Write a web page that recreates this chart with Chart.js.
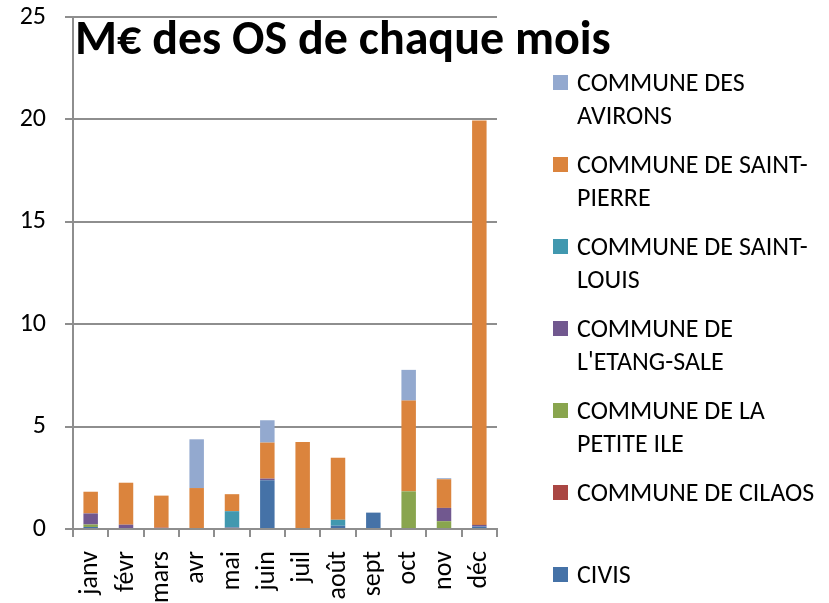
<!DOCTYPE html>
<html>
<head>
<meta charset="utf-8">
<script src="https://cdn.jsdelivr.net/npm/chart.js@4.4.1/dist/chart.umd.min.js"></script>
<style>
  html, body { margin: 0; padding: 0; background: #fff; overflow: hidden; }
  #wrap { position: relative; width: 829px; height: 603px; }
  #legend { position: absolute; left: 553px; top: 66px; font-family: Carlito, Lato, sans-serif; font-size: 26px; color: #000; }
  .item { position: relative; height: 82px; }
  .box { position: absolute; left: 0; top: 9px; width: 15px; height: 15px; }
  .txt { position: absolute; left: 24px; top: 0; line-height: 33px; white-space: nowrap; }
</style>
</head>
<body>
<div id="wrap">
  <canvas id="c" width="829" height="603"></canvas>
  <div id="legend"></div>
</div>
<script>
(function () {
  "use strict";

  // ---- data (M€) ----
  var MONTHS = ["janv", "févr", "mars", "avr", "mai", "juin", "juil", "août", "sept", "oct", "nov", "déc"];
  var Y_TICKS = [0, 5, 10, 15, 20, 25];
  var TITLE = "M€ des OS de chaque mois";

  // stacking order, bottom to top
  var NAMES = [
    ["CIVIS"],
    ["COMMUNE DE CILAOS"],
    ["COMMUNE DE LA", "PETITE ILE"],
    ["COMMUNE DE", "L'ETANG-SALE"],
    ["COMMUNE DE SAINT-", "LOUIS"],
    ["COMMUNE DE SAINT-", "PIERRE"],
    ["COMMUNE DES", "AVIRONS"]
  ];
  var COLORS = ["#4572A7", "#AA4643", "#89A54E", "#71588F", "#4198AF", "#DB843D", "#93A9CF"];

  var CIVIS        = [0.10, 0,    0,    0,    0,    2.38, 0,    0.16, 0.80, 0,    0,    0.12];
  var CILAOS       = [0,    0,    0.07, 0,    0,    0,    0,    0,    0,    0,    0,    0];
  var PETITE_ILE   = [0.12, 0,    0,    0,    0,    0,    0,    0,    0,    1.84, 0.38, 0];
  var ETANG_SALE   = [0.54, 0.21, 0,    0,    0.07, 0.08, 0,    0,    0,    0,    0.65, 0.08];
  var SAINT_LOUIS  = [0,    0,    0,    0,    0.80, 0,    0,    0.29, 0,    0,    0,    0];
  var SAINT_PIERRE = [1.06, 2.05, 1.56, 2.00, 0.83, 1.76, 4.25, 3.03, 0,    4.43, 1.40, 19.75];
  var AVIRONS      = [0,    0,    0,    2.38, 0,    1.09, 0,    0,    0,    1.50, 0.05, 0];

  var SERIES = [CIVIS, CILAOS, PETITE_ILE, ETANG_SALE, SAINT_LOUIS, SAINT_PIERRE, AVIRONS];

  var FONT = "Carlito, Lato, sans-serif";
  var AXIS = "#8e8e8e";

  var datasets = SERIES.map(function (d, i) {
    return {
      label: NAMES[i].join(" "),
      data: d,
      backgroundColor: COLORS[i],
      borderWidth: 0,
      categoryPercentage: 1,
      barPercentage: 0.41
    };
  });

  var titlePlugin = {
    id: "overTitle",
    afterDraw: function (chart) {
      var ctx = chart.ctx;
      ctx.save();
      ctx.font = "bold 48px " + FONT;
      ctx.fillStyle = "#000";
      ctx.textBaseline = "alphabetic";
      ctx.textAlign = "left";
      ctx.fillText(TITLE, chart.chartArea.left + 2, 54);
      ctx.restore();
    }
  };

  var chart = new Chart(document.getElementById("c").getContext("2d"), {
    type: "bar",
    data: { labels: MONTHS, datasets: datasets },
    plugins: [titlePlugin],
    options: {
      responsive: false,
      animation: false,
      layout: { padding: { top: 17, right: 332, left: 0, bottom: 0 } },
      plugins: { legend: { display: false }, title: { display: false }, tooltip: { enabled: false } },
      scales: {
        x: {
          stacked: true,
          afterFit: function (s) { s.height = 74; s.paddingLeft = 0; s.paddingRight = 0; },
          grid: { drawOnChartArea: false, drawTicks: true, tickLength: 8, color: AXIS, lineWidth: 2, offset: true },
          border: { color: AXIS, width: 2 },
          ticks: { color: "#000", font: { family: FONT, size: 26 }, minRotation: 90, maxRotation: 90, padding: 14, autoSkip: false }
        },
        y: {
          stacked: true,
          min: 0, max: 25,
          afterFit: function (s) { s.width = 73; s.paddingTop = 0; s.paddingBottom = 0; },
          afterBuildTicks: function (s) { s.ticks = Y_TICKS.map(function (v) { return { value: v }; }); },
          grid: { color: AXIS, lineWidth: 2, tickLength: 8 },
          border: { color: AXIS, width: 2 },
          ticks: { color: "#000", font: { family: FONT, size: 26 }, padding: 19 }
        }
      }
    }
  });

  // legend, top entry = top of the stack
  var lg = document.getElementById("legend");
  for (var i = NAMES.length - 1; i >= 0; i--) {
    var it = document.createElement("div"); it.className = "item";
    var bx = document.createElement("div"); bx.className = "box"; bx.style.background = chart.data.datasets[i].backgroundColor;
    var tx = document.createElement("div"); tx.className = "txt"; tx.innerHTML = NAMES[i].join("<br>");
    it.appendChild(bx); it.appendChild(tx); lg.appendChild(it);
  }
})();
</script>
</body>
</html>
